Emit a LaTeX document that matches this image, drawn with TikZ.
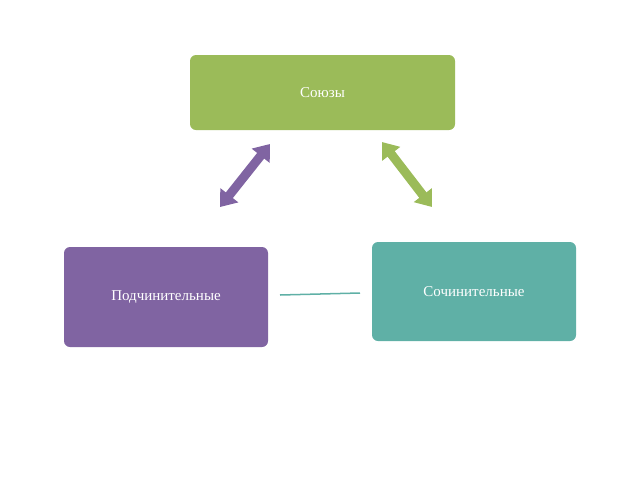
\documentclass[tikz,border=0pt]{standalone}
\usepackage{fontspec}
\setmainfont{Liberation Serif}
\usetikzlibrary{arrows.meta}
\definecolor{boxgreen}{HTML}{9BBB59}
\definecolor{boxpurple}{HTML}{8064A2}
\definecolor{boxteal}{HTML}{5FB0A6}
\tikzset{
  unionbox/.style={rounded corners=6pt, text=white, font=\fontsize{15}{18}\selectfont, inner sep=0pt},
  fatarrow/.style={line width=9pt, {Triangle[width=22pt,length=15pt]}-{Triangle[width=22pt,length=15pt]}}
}
\begin{document}
\begin{tikzpicture}[x=1pt,y=-1pt]
        \useasboundingbox (0,0) rectangle (640,480);
        % the three boxes
        \node[unionbox, fill=boxgreen, minimum width=265pt, minimum height=75pt] (top) at (322.5,92.5) {Союзы};
        \node[unionbox, fill=boxpurple, minimum width=204pt, minimum height=100pt] (left) at (166,297) {Подчинительные};
        \node[unionbox, fill=boxteal, minimum width=204pt, minimum height=99pt] (right) at (474,291.5) {Сочинительные};

        % free ends of the arrows
        \coordinate (lt) at (270,144);
        \coordinate (lb) at (220,207);
        \coordinate (rt) at (382,142);
        \coordinate (rb) at (432,207);
        \draw[fatarrow, boxpurple] (lb) -- (lt);
        \draw[fatarrow, boxgreen] (rb) -- (rt);

        % link between the lower boxes
        \coordinate (ll) at (280,295);
        \coordinate (lr) at (360,293);
        \draw[boxteal, line width=1.5pt] (ll) -- (lr);
\end{tikzpicture}
\end{document}
